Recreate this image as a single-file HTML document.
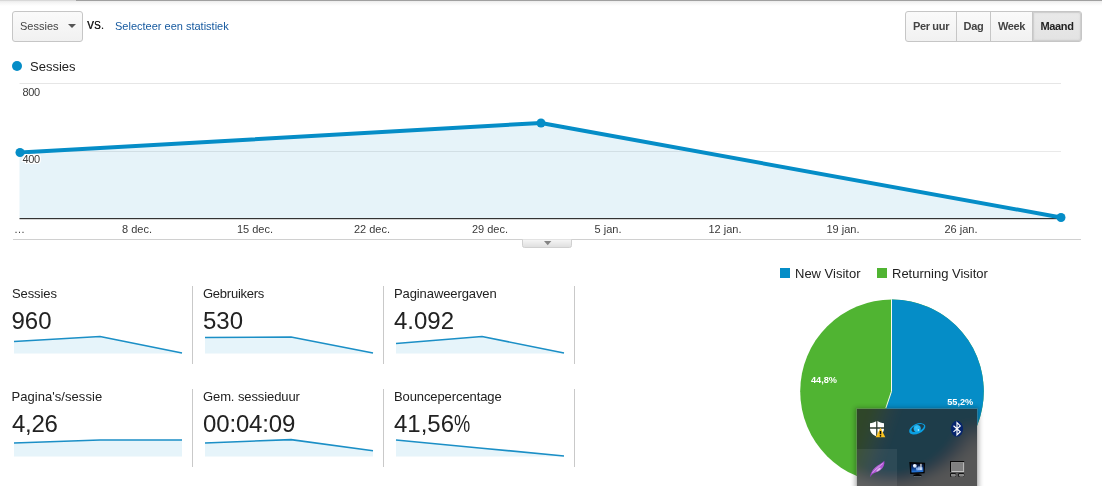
<!DOCTYPE html>
<html lang="nl">
<head>
<meta charset="utf-8">
<title>Sessies</title>
<style>
html,body{margin:0;padding:0;background:#fff;}
body{width:1102px;height:486px;position:relative;overflow:hidden;font-family:"Liberation Sans",Arial,sans-serif;color:#222;}
.abs{position:absolute;}
#topline{left:0;top:0;width:1102px;height:6px;background:linear-gradient(#a0a0a0 0,#a0a0a0 1px,#ececec 1px,#f6f6f6 3px,#fff 6px);}
#topline2{left:0;top:0;width:76px;height:1px;background:#d8d8d8;}
#dd{left:12px;top:11px;width:69px;height:29px;border:1px solid #c6c6c6;border-radius:3px;background:linear-gradient(#fafafa,#f1f1f1);font-size:11px;color:#444;line-height:29px;}
#dd span{position:absolute;left:7px;top:0;}
#dd i{position:absolute;left:54.500px;top:12px;border-left:4px solid transparent;border-right:4px solid transparent;border-top:4px solid #555;}
#vs{left:87px;top:19px;font-size:10px;color:#1a1a1a;line-height:14px;letter-spacing:0.300px;text-shadow:0.400px 0 0 #222;}
#sel{left:115px;top:19px;font-size:11px;color:#15599f;line-height:14px;}
#btns{left:905px;top:11px;height:29px;width:175px;border:1px solid #c6c6c6;border-radius:3px;background:linear-gradient(#fafafa,#f1f1f1);font-size:11px;letter-spacing:-0.33px;font-weight:bold;color:#444;line-height:29px;}
#btns div{position:absolute;top:0;height:29px;text-align:center;}
#btns .sep{width:1px;background:#c6c6c6;}
#btns .act{background:linear-gradient(#e9e9e9,#e3e3e3);box-shadow:inset 0 0 0 1px #cfcfcf,inset 0 0 3px rgba(0,0,0,0.14);color:#222;border-radius:0 2px 2px 0;}
.lbl{font-size:11px;color:#3a3a3a;line-height:12px;white-space:nowrap;}
.xl{top:223px;transform:translateX(-50%);}
.mt{font-size:13px;color:#222;line-height:16px;white-space:nowrap;letter-spacing:-0.1px;}
.mv{font-size:24px;color:#222;line-height:28px;white-space:nowrap;}
.vsep{width:1px;background:#c9c9c9;}
</style>
</head>
<body>
<div class="abs" id="topline"></div>
<div class="abs" id="topline2"></div>

<div class="abs" id="dd"><span>Sessies</span><i></i></div>
<div class="abs" id="vs">VS.</div>
<div class="abs" id="sel">Selecteer een statistiek</div>

<div class="abs" id="btns">
  <div style="left:0;width:50px;">Per uur</div>
  <div class="sep" style="left:50px;"></div>
  <div style="left:51px;width:33px;">Dag</div>
  <div class="sep" style="left:84px;"></div>
  <div style="left:85px;width:41px;">Week</div>
  <div class="sep" style="left:126px;"></div>
  <div class="act" style="left:127px;width:48px;">Maand</div>
</div>

<!-- legend -->
<div class="abs" style="left:12px;top:61px;width:10px;height:10px;border-radius:50%;background:#058dc7;"></div>
<div class="abs" style="left:30px;top:59px;font-size:13px;line-height:16px;color:#222;">Sessies</div>

<!-- chart -->
<svg class="abs" style="left:0;top:75px;" width="1102" height="180" viewBox="0 75 1102 180">
  <defs><linearGradient id="tabg" x1="0" y1="0" x2="0" y2="1"><stop offset="0" stop-color="#f6f6f6"/><stop offset="1" stop-color="#dedede"/></linearGradient></defs>
  <rect x="19.500" y="83" width="1041.500" height="1" fill="#e6e6e6"/>
  <rect x="19.500" y="151" width="1041.500" height="1" fill="#e9e9e9"/>
  <polygon points="19.500,152 540.500,123 1061.600,218 19.500,218" fill="#058dc7" fill-opacity="0.100"/>
  <rect x="19.500" y="218" width="1041.500" height="1.200" fill="#333"/>
  <polyline points="20,152.5 541,123 1061,217.5" fill="none" stroke="#058dc7" stroke-width="4" stroke-linejoin="round"/>
  <circle cx="20" cy="152.5" r="4.5" fill="#058dc7"/>
  <circle cx="541" cy="123" r="4.5" fill="#058dc7"/>
  <circle cx="1061" cy="217.5" r="4.5" fill="#058dc7"/>
  <rect x="13" y="239" width="1068" height="1" fill="#d0d0d0"/>
  <path d="M522.500,239.500 V245.500 Q522.500,247.500 524.500,247.500 H569.500 Q571.500,247.500 571.500,245.500 V239.500" fill="url(#tabg)" stroke="#d0d0d0" stroke-width="1"/>
  <path d="M544,241 H551.400 L547.700,245.200 Z" fill="#848484"/>
</svg>
<div class="abs lbl" style="left:22.500px;top:86px;text-shadow:1px 0 #fff,-1px 0 #fff,0 1px #fff,0 -1px #fff,1px 1px #fff,-1px -1px #fff,1px -1px #fff,-1px 1px #fff,0 0 2px #fff;letter-spacing:-0.400px;">800</div>
<div class="abs lbl" style="left:22.500px;top:153px;text-shadow:1px 0 #fff,-1px 0 #fff,0 1px #fff,0 -1px #fff,1px 1px #fff,-1px -1px #fff,1px -1px #fff,-1px 1px #fff,0 0 2px #fff;letter-spacing:-0.400px;">400</div>
<div class="abs lbl" style="left:14px;top:223px;">…</div>
<div class="abs lbl xl" style="left:137px;">8 dec.</div>
<div class="abs lbl xl" style="left:255px;">15 dec.</div>
<div class="abs lbl xl" style="left:372px;">22 dec.</div>
<div class="abs lbl xl" style="left:490px;">29 dec.</div>
<div class="abs lbl xl" style="left:608px;">5 jan.</div>
<div class="abs lbl xl" style="left:725px;">12 jan.</div>
<div class="abs lbl xl" style="left:843px;">19 jan.</div>
<div class="abs lbl xl" style="left:961px;">26 jan.</div>

<!-- metrics -->
<div class="abs mt" style="left:12px;top:286px;">Sessies</div>
<div class="abs mv" style="left:11.500px;top:307px;">960</div>
<div class="abs mt" style="left:203px;top:286px;letter-spacing:-0.250px;">Gebruikers</div>
<div class="abs mv" style="left:203px;top:307px;">530</div>
<div class="abs mt" style="left:394px;top:286px;">Paginaweergaven</div>
<div class="abs mv" style="left:394px;top:307px;">4.092</div>
<div class="abs mt" style="left:11.500px;top:389px;letter-spacing:0.050px;">Pagina's/sessie</div>
<div class="abs mv" style="left:12px;top:410px;letter-spacing:-0.3px;">4,26</div>
<div class="abs mt" style="left:203px;top:389px;">Gem. sessieduur</div>
<div class="abs mv" style="left:203px;top:410px;letter-spacing:-0.15px;">00:04:09</div>
<div class="abs mt" style="left:394px;top:389px;">Bouncepercentage</div>
<div class="abs mv" style="left:394px;top:410px;">41,56<span style="display:inline-block;transform:scaleX(0.760);transform-origin:0 50%;">%</span></div>

<div class="abs vsep" style="left:192px;top:286px;height:78px;"></div>
<div class="abs vsep" style="left:383px;top:286px;height:78px;"></div>
<div class="abs vsep" style="left:574px;top:286px;height:78px;"></div>
<div class="abs vsep" style="left:192px;top:389px;height:78px;"></div>
<div class="abs vsep" style="left:383px;top:389px;height:78px;"></div>
<div class="abs vsep" style="left:574px;top:389px;height:78px;"></div>

<svg class="abs" style="left:0;top:330px;" width="600" height="140" viewBox="0 330 600 140">
  <g fill="#e6f4fa" stroke="none">
    <polygon points="14,341.500 100,336.500 182,353 182,353.500 14,353.500"/>
    <polygon points="205,337.500 291,337 373,353 373,353.500 205,353.500"/>
    <polygon points="396,343.500 482,336.500 564,353 564,353.500 396,353.500"/>
    <polygon points="14,443 100,440 182,440 182,456.500 14,456.500"/>
    <polygon points="205,443 291,439.600 373,450.700 373,456.500 205,456.500"/>
    <polygon points="396,440 482,448.200 564,456 564,456.500 396,456.500"/>
  </g>
  <g fill="none" stroke="#1b8fc6" stroke-width="1.6" stroke-linejoin="round">
    <polyline points="14,341.500 100,336.500 182,353"/>
    <polyline points="205,337.500 291,337 373,353"/>
    <polyline points="396,343.500 482,336.500 564,353"/>
    <polyline points="14,443 100,440 182,440"/>
    <polyline points="205,443 291,439.600 373,450.700"/>
    <polyline points="396,440 482,448.200 564,456"/>
  </g>
</svg>

<!-- pie legend -->
<div class="abs" style="left:780px;top:268px;width:10px;height:10px;background:#058dc7;"></div>
<div class="abs mt" style="left:795px;top:266px;letter-spacing:0;">New Visitor</div>
<div class="abs" style="left:877px;top:268px;width:10px;height:10px;background:#50b432;"></div>
<div class="abs mt" style="left:892px;top:266px;letter-spacing:0;">Returning Visitor</div>

<svg class="abs" style="left:780px;top:290px;" width="322" height="196" viewBox="780 290 322 196">
  <defs>
    <clipPath id="trayclip"><rect x="857" y="409" width="120" height="77"/></clipPath>
    <clipPath id="leftclip"><rect x="700" y="290" width="277.200" height="260"/></clipPath>
    <clipPath id="bordclip"><rect x="856" y="408" width="122" height="78"/></clipPath>
    <filter id="blur" x="-20%" y="-20%" width="140%" height="140%"><feGaussianBlur stdDeviation="9 5.500"/></filter>
    <filter id="sh" x="-20%" y="-20%" width="140%" height="140%"><feGaussianBlur stdDeviation="2.500"/></filter>
    <linearGradient id="fg" x1="0" y1="1" x2="1" y2="0"><stop offset="0" stop-color="#9b38c6"/><stop offset="0.500" stop-color="#b868da"/><stop offset="1" stop-color="#a63fd0"/></linearGradient>
    <radialGradient id="ball" cx="0.400" cy="0.350" r="0.700"><stop offset="0" stop-color="#35c4fb"/><stop offset="1" stop-color="#12a9ee"/></radialGradient>
    <linearGradient id="scr" x1="0" y1="0" x2="0" y2="1"><stop offset="0" stop-color="#040c20"/><stop offset="0.500" stop-color="#0b357e"/><stop offset="1" stop-color="#2a80e6"/></linearGradient>
  </defs>
  <g id="pie">
  <circle cx="892" cy="391.300" r="91.800" fill="#50b432"/>
  <path d="M892,391.300 L892,299.500 A91.800,91.800 0 1 1 862.537,478.244 Z" fill="#058dc7"/>
  <path d="M891.500,299.300 L891.500,391.300 L862.100,478.244" fill="none" stroke="#fff" stroke-width="1" stroke-opacity="0.950"/>
  </g>
  <text x="824" y="383" font-family="Liberation Sans, Arial, sans-serif" font-size="9.200" font-weight="bold" fill="#fff" text-anchor="middle">44,8%</text>
  <text x="960.200" y="405" font-family="Liberation Sans, Arial, sans-serif" font-size="9.200" font-weight="bold" fill="#fff" text-anchor="middle">55,2%</text>

  <!-- tray popup shadow -->
  <rect x="855" y="408" width="124" height="82" fill="#000" opacity="0.300" filter="url(#sh)"/>
  <!-- tray popup: sharp border ring then blurred backdrop -->
  <g clip-path="url(#bordclip)">
    <rect x="850" y="400" width="140" height="90" fill="#fff"/>
    <circle cx="892" cy="391.300" r="91.800" fill="#50b432"/>
    <path d="M892,391.300 L892,299.500 A91.800,91.800 0 1 1 862.537,478.244 Z" fill="#058dc7"/>
    <rect x="856" y="408" width="122" height="78" fill="#666" opacity="0.420"/>
  </g>
  <g clip-path="url(#trayclip)">
    <rect x="820" y="380" width="200" height="140" fill="#fff"/>
    <g filter="url(#blur)">
      <g clip-path="url(#leftclip)">
        <rect x="780" y="290" width="322" height="230" fill="#fff"/>
        <circle cx="892" cy="391.300" r="91.800" fill="#50b432"/>
        <path d="M892,391.300 L892,299.500 A91.800,91.800 0 1 1 862.537,478.244 Z" fill="#058dc7"/>
      </g>
      <g transform="translate(1954 0) scale(-1 1)" clip-path="url(#leftclip)">
        <rect x="780" y="290" width="322" height="230" fill="#fff"/>
        <circle cx="892" cy="391.300" r="91.800" fill="#50b432"/>
        <path d="M892,391.300 L892,299.500 A91.800,91.800 0 1 1 862.537,478.244 Z" fill="#058dc7"/>
      </g>
    </g>
    <rect x="857" y="409" width="120" height="77" fill="#262626" opacity="0.780"/>
    <rect x="857" y="449" width="40" height="37" fill="#fff" opacity="0.070"/>
  </g>
  <!-- shield -->
  <path d="M877,420.700 C874.600,422.400 872.300,423 870,423.200 L870,428.500 C870,432.500 873,435.300 877,436.600 C881,435.300 884,432.500 884,428.500 L884,423.200 C881.700,423 879.400,422.400 877,420.700 Z" fill="#fff"/>
  <path d="M876.800,420 V437 M869,428 H885" stroke="#2c3b2e" stroke-width="1.300" fill="none"/>
  <path d="M880.500,427.800 L885.300,437.200 L875.700,437.200 Z" fill="#fcc31d"/>
  <path d="M880.500,431 V434.300" stroke="#0a0a0a" stroke-width="1.600"/>
  <circle cx="880.500" cy="435.800" r="0.850" fill="#0a0a0a"/>
  <!-- eye -->
  <g transform="rotate(-24 917.200 428.800)">
    <path fill-rule="evenodd" fill="#0a9fe2" d="M908.500,428.800 a8.700,4.900 0 1 0 17.400,0 a8.700,4.900 0 1 0 -17.400,0 Z M911.300,428.300 a6.700,3.300 0 1 0 13.400,0 a6.700,3.300 0 1 0 -13.400,0 Z"/>
  </g>
  <circle cx="917.200" cy="428.600" r="3.600" fill="url(#ball)"/>
  <circle cx="918.400" cy="430" r="0.800" fill="#d9f3ff"/>
  <!-- bluetooth -->
  <ellipse cx="957" cy="428.800" rx="6.100" ry="8" fill="#06256e"/>
  <path d="M953.500,425.700 L960.300,431.700 L957,434.900 L957,422.700 L960.300,425.900 L953.500,431.900" fill="none" stroke="#fff" stroke-width="1.150" stroke-linejoin="miter"/>
  <!-- feather -->
  <path d="M870.200,477.200 C870.300,472.500 873.500,468 878,465.200 C880.600,463.600 882.800,462.600 884.300,460.700 C884.900,464.500 883.500,467.800 880.200,470.300 C877.500,472.300 874.800,472.300 872.700,473.900 C871.600,474.800 870.800,475.900 870.200,477.200 Z" fill="url(#fg)"/>
  <path d="M872.300,473 C875,469.500 879,466.500 883.200,463.200" stroke="#f0dcf7" stroke-width="0.800" fill="none" opacity="0.700"/>
  <ellipse cx="878.600" cy="469.600" rx="2.600" ry="0.900" transform="rotate(-38 878.600 469.600)" fill="#ecd9f5" opacity="0.750"/>
  <!-- monitor -->
  <path d="M909.300,462 L925.100,462.700 L924.600,473.200 L910.300,473.900 Z" fill="#040404"/>
  <path d="M910.800,463.500 L923.800,464 L923.400,471.900 L911.500,472.400 Z" fill="url(#scr)"/>
  <circle cx="914.800" cy="465.800" r="1.900" fill="#dbe9ff"/>
  <circle cx="914.300" cy="465.300" r="0.900" fill="#fff"/>
  <path d="M915.800,467.600 L922.600,467.200 L922.500,470.300 L916.500,470.500 Z" fill="#9cc4ff" opacity="0.800"/>
  <rect x="920.400" y="463.800" width="1.100" height="6.200" fill="#fff"/>
  <rect x="918.600" y="466.200" width="0.800" height="3.600" fill="#d5e6ff"/>
  <rect x="915.600" y="473.400" width="3.800" height="1.400" fill="#0a0a0a"/>
  <ellipse cx="917.500" cy="475.300" rx="4.300" ry="0.950" fill="#040404"/>
  <rect x="914" y="476.100" width="7" height="0.600" fill="#9aa4aa" opacity="0.600"/>
  <!-- gray box -->
  <rect x="950" y="461" width="14.200" height="11" fill="#0a0a0a"/>
  <rect x="951.200" y="462.200" width="13" height="9.800" fill="#c4c4c4"/>
  <rect x="951.200" y="462.200" width="12" height="8.800" fill="#808080"/>
  <rect x="950" y="473" width="6" height="4" rx="1.200" fill="#141414"/>
  <rect x="951" y="473.900" width="4.600" height="2.700" rx="0.800" fill="#b4b4b4"/>
  <rect x="951" y="473.900" width="4" height="2" rx="0.600" fill="#868686"/>
  <rect x="958.200" y="473" width="6" height="4" rx="1.200" fill="#141414"/>
  <rect x="959.200" y="473.900" width="4.600" height="2.700" rx="0.800" fill="#b4b4b4"/>
  <rect x="959.200" y="473.900" width="4" height="2" rx="0.600" fill="#868686"/>
</svg>
</body>
</html>
